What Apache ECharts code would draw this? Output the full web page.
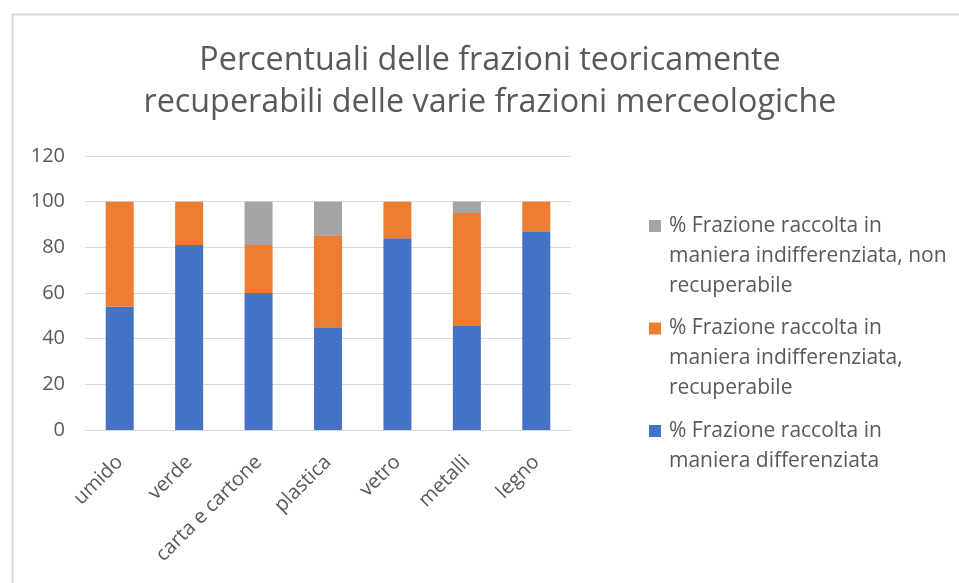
<!DOCTYPE html>
<html>
<head>
<meta charset="utf-8">
<script src="https://cdn.jsdelivr.net/npm/echarts@6/dist/echarts.min.js"></script>
<style>html,body{margin:0;padding:0;background:#fff}#c{width:959px;height:583px}</style>
</head>
<body>
<div id="c"></div>
<script>
const categories = ['umido', 'verde', 'carta e cartone', 'plastica', 'vetro', 'metalli', 'legno'];
const differenziata = [54, 81, 60, 45, 84, 45.5, 87];
const indiffRecuperabile = [46, 19, 21, 40, 16, 49.5, 13];
const indiffNonRecuperabile = [0, 0, 19, 15, 0, 5, 0];
const yTicks = [0, 20, 40, 60, 80, 100, 120];
const seriesNames = [
  '% Frazione raccolta in\nmaniera differenziata',
  '% Frazione raccolta in\nmaniera indifferenziata,\nrecuperabile',
  '% Frazione raccolta in\nmaniera indifferenziata, non\nrecuperabile'
];
const titleText = 'Percentuali delle frazioni teoricamente\nrecuperabili delle varie frazioni merceologiche';

const FONT = 'Open Sans';
const TXT = '#595959';
const chart = echarts.init(document.getElementById('c'), null, {renderer: 'canvas'});
const iconTop = 'path://M0,0h12v12h-12z M0,72L12,72';
chart.setOption({
  animation: false,
  backgroundColor: '#fff',
  graphic: [{
    type: 'rect', left: 10, top: 12, z: -10,
    shape: {x: 0, y: 0, width: 2000, height: 2000},
    style: {fill: 'none', stroke: '#d9d9d9', lineWidth: 2}
  }],
  title: {
    text: titleText,
    left: 485, top: 35, textAlign: 'center',
    textStyle: {fontFamily: FONT, fontSize: 32.3, fontWeight: 'normal', color: TXT, lineHeight: 42}
  },
  legend: {
    orient: 'vertical', left: 644, top: 206, itemGap: 12.5,
    itemWidth: 12, itemHeight: 72, selectedMode: false,
    data: [
      {name: seriesNames[2], icon: iconTop},
      {name: seriesNames[1], icon: iconTop},
      {name: seriesNames[0], icon: iconTop}
    ],
    formatter: function (name) { return name === seriesNames[0] ? name + '\n ' : name; },
    textStyle: {fontFamily: FONT, fontSize: 21, color: TXT, lineHeight: 30, padding: [0, 0, 0, 3]}
  },
  grid: {left: 85, right: 388, top: 156, bottom: 153},
  xAxis: {
    type: 'category', data: categories,
    axisLine: {lineStyle: {color: '#d9d9d9'}},
    axisTick: {show: false},
    axisLabel: {rotate: 45, margin: 29, fontFamily: FONT, fontSize: 20, color: TXT, interval: 0}
  },
  yAxis: {
    type: 'value', min: yTicks[0], max: yTicks[yTicks.length - 1], interval: yTicks[1] - yTicks[0],
    axisLine: {show: false}, axisTick: {show: false},
    splitLine: {lineStyle: {color: '#d9d9d9'}},
    axisLabel: {margin: 20, fontFamily: FONT, fontSize: 20, color: TXT}
  },
  series: [
    {name: seriesNames[0], type: 'bar', stack: 's', data: differenziata, barWidth: 28, itemStyle: {color: '#4472c4'}},
    {name: seriesNames[1], type: 'bar', stack: 's', data: indiffRecuperabile, barWidth: 28, itemStyle: {color: '#ed7d31'}},
    {name: seriesNames[2], type: 'bar', stack: 's', data: indiffNonRecuperabile, barWidth: 28, itemStyle: {color: '#a5a5a5'}}
  ]
});
</script>
</body>
</html>
